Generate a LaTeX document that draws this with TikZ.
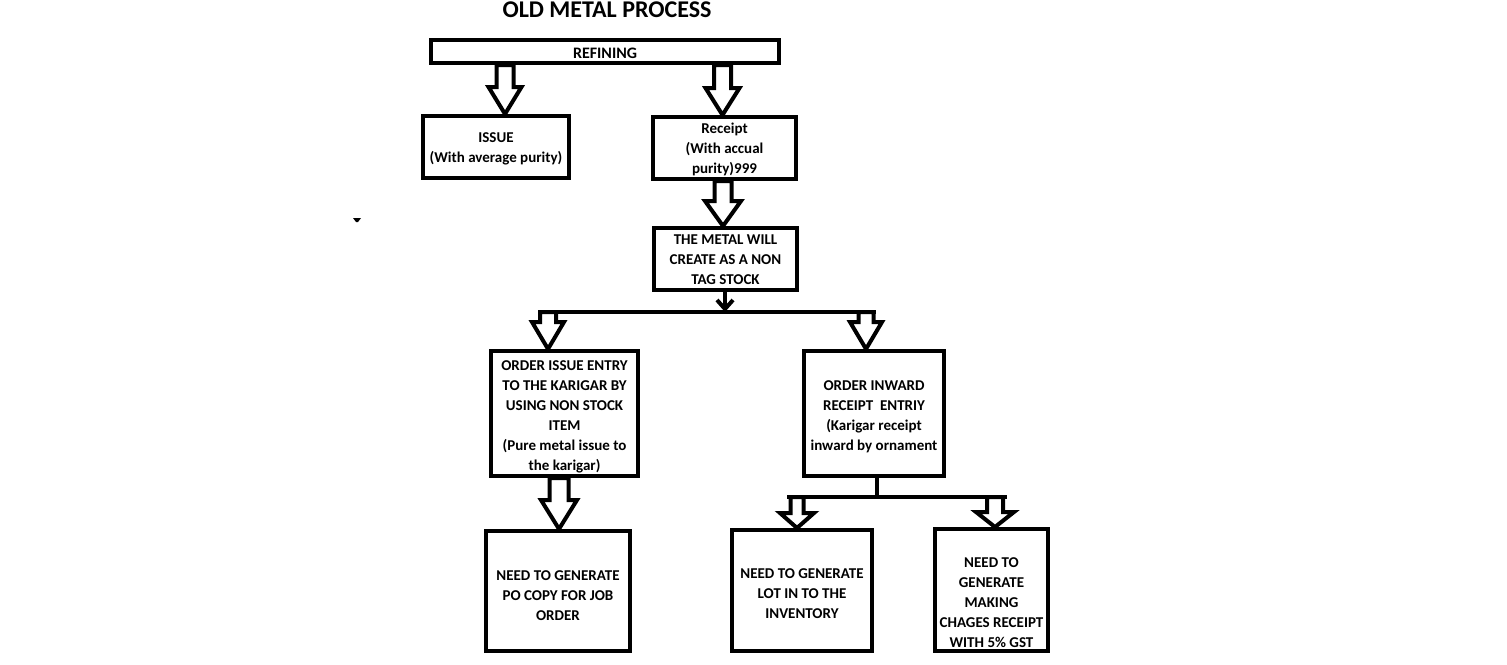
\documentclass[tikz,border=0pt]{standalone}
\usepackage{fontspec}
\setmainfont{Carlito}
\usetikzlibrary{calc,arrows.meta}
\tikzset{
  every node/.style={font=\bfseries\fontsize{15}{20}\selectfont, align=center, inner sep=0pt},
  box/.style={draw, line width=4pt, fill=white},
  conn/.style={line width=4pt},
  harrow/.style={draw, line width=4pt, fill=white, line join=miter},
  titletext/.style={font=\bfseries\fontsize{24}{28}\selectfont},
  reftext/.style={font=\bfseries\fontsize{16}{20}\selectfont}
}
% #1 x (pt), #2 from coordinate, #3 to coordinate, #4 shaft half width, #5 head half width, #6 head length
\newcommand\hollowarrow[6]{%
  \draw[harrow] let \p1=#2, \p2=#3 in
    (#1pt-#4pt,\y1) -- (#1pt-#4pt,\y2+#6pt) -- (#1pt-#5pt,\y2+#6pt) -- (#1pt,\y2)
    -- (#1pt+#5pt,\y2+#6pt) -- (#1pt+#4pt,\y2+#6pt) -- (#1pt+#4pt,\y1) -- cycle;}
\begin{document}
\begin{tikzpicture}[x=1pt,y=-1pt]
\useasboundingbox (0,0) rectangle (1507,664);
\fill[white] (0,0) rectangle (1507,664);

\node[titletext] (title) at (607,10) {OLD METAL PROCESS};

\node[box, minimum width=348pt, minimum height=23pt,
      label={[reftext,yshift=-1.5pt]center:REFINING}] (refining) at (605,51.5) {};
\node[box, minimum width=146pt, minimum height=62pt,
      label={[yshift=-2pt]center:ISSUE\\(With average purity)}] (issue) at (496,147) {};
\node[box, minimum width=143pt, minimum height=62pt,
      label={[yshift=-1pt]center:Receipt\\(With accual\\purity)999}] (receipt) at (724.5,148) {};
\node[box, minimum width=143pt, minimum height=62pt,
      label={[yshift=-1pt]center:THE METAL WILL\\CREATE AS A NON\\TAG STOCK}] (metal) at (725.5,259) {};
\node[box, minimum width=147pt, minimum height=125pt,
      label={[yshift=-3pt]center:ORDER ISSUE ENTRY\\TO THE KARIGAR BY\\USING NON STOCK\\ITEM\\(Pure metal issue to\\the karigar)}] (orderissue) at (564.5,413.5) {};
\node[box, minimum width=140pt, minimum height=125pt,
      label={[yshift=-3pt]center:ORDER INWARD\\RECEIPT\ \ ENTRIY\\(Karigar receipt\\inward by ornament}] (inward) at (874,413.5) {};
\node[box, minimum width=144pt, minimum height=120pt,
      label={[yshift=-5pt]center:NEED TO GENERATE\\PO COPY FOR JOB\\ORDER}] (po) at (558,591) {};
\node[box, minimum width=140pt, minimum height=121pt,
      label={[yshift=-3pt]center:NEED TO GENERATE\\LOT IN TO THE\\INVENTORY}] (lot) at (802,590.5) {};
\node[box, minimum width=113pt, minimum height=122pt,
      label={[yshift=-13pt]center:NEED TO\\GENERATE\\MAKING\\CHAGES RECEIPT\\WITH 5\% GST}] (gst) at (991.5,590) {};

% bus coordinates
\coordinate (bus1c) at (725,312);
\coordinate (busA) at (548,312);
\coordinate (busB) at (866,312);
\coordinate (bus2c) at (877,497);
\coordinate (bus2a) at (797,497);
\coordinate (bus2b) at (995,497);

% hollow arrows
\hollowarrow{505}{(refining.south)}{(issue.north)}{8.5}{16.5}{27}
\hollowarrow{722.5}{(refining.south)}{(receipt.north)}{8.5}{17}{27}
\hollowarrow{723}{(receipt.south)}{(metal.north)}{8.5}{18}{25}

% metal to bus
\draw[conn] ([xshift=-0.5pt]metal.south) -- (bus1c);
\draw[line width=4pt] ([xshift=-8pt,yshift=12pt]bus1c) -- ([yshift=3pt]bus1c) -- ([xshift=8pt,yshift=12pt]bus1c);
\draw[conn] ([xshift=-10pt]busA) -- ([xshift=10pt]busB);
\hollowarrow{548}{(busA)}{(orderissue.north)}{8}{16}{27}
\hollowarrow{866}{(busB)}{(inward.north)}{7.5}{16}{27}

\hollowarrow{559}{(orderissue.south)}{(po.north)}{9.5}{18}{29}

% inward to bus 2
\draw[conn] ([xshift=3pt]inward.south) -- (bus2c);
\draw[conn] ([xshift=-10pt]bus2a) -- ([xshift=12pt]bus2b);
\hollowarrow{797}{(bus2a)}{(lot.north)}{6.5}{17}{15}
\hollowarrow{995}{(bus2b)}{(gst.north)}{8}{19}{15}

% small stray mark
\fill (353,218) -- (361,218) -- (358,222) -- (356,222) -- cycle;
\end{tikzpicture}
\end{document}
